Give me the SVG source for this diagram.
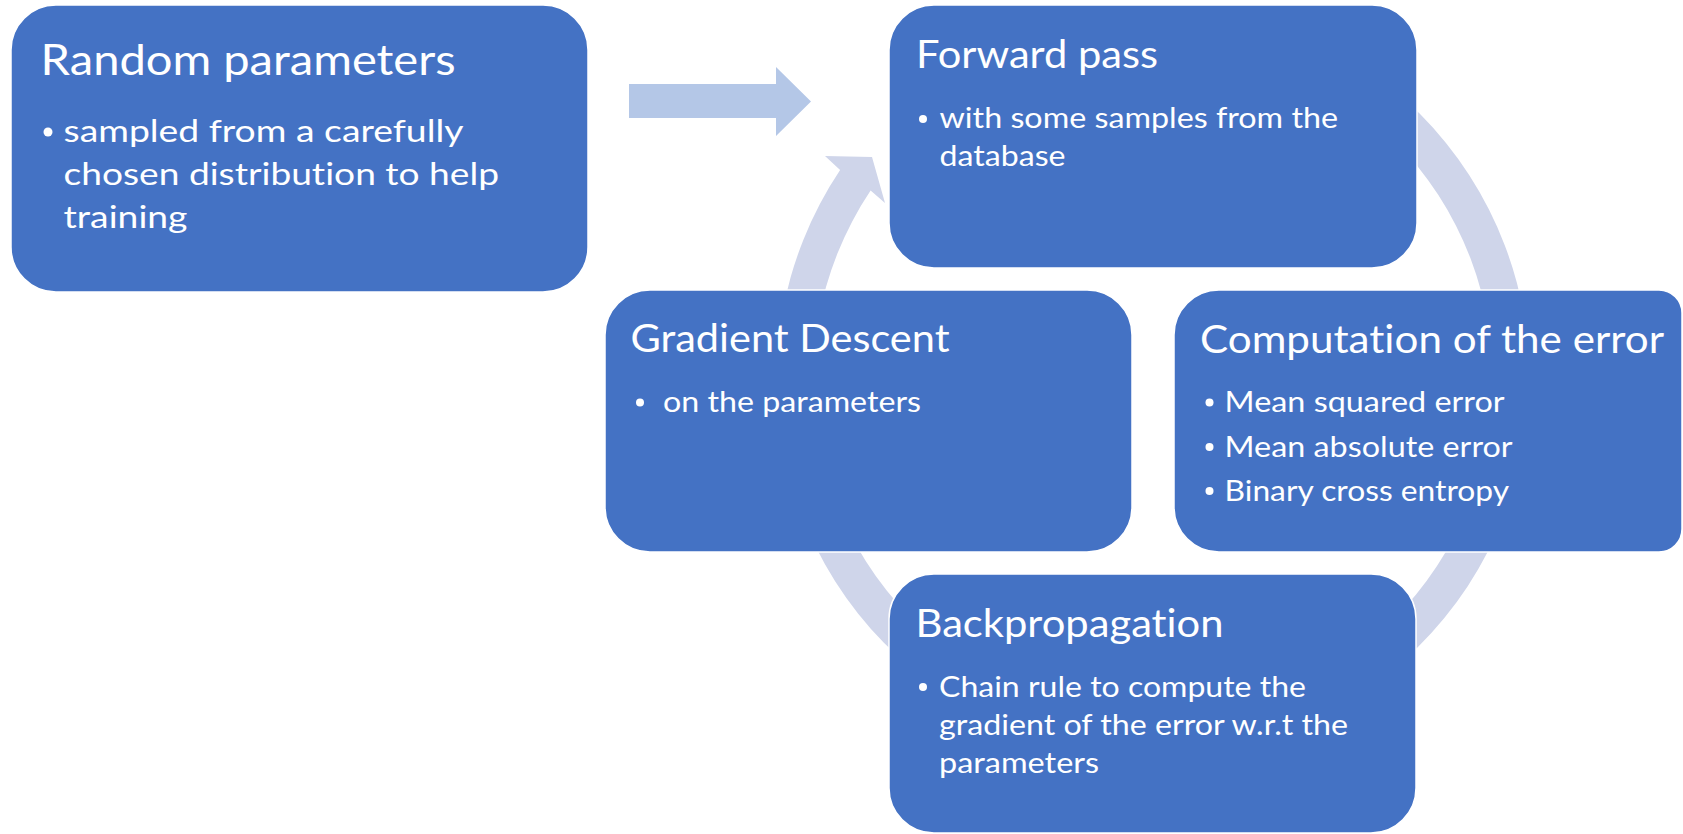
<svg xmlns="http://www.w3.org/2000/svg" width="1683" height="834" viewBox="0 0 1683 834">
  <style>
    .box { fill: #4472C4; stroke: #FFFFFF; stroke-width: 1.5; }
    .title { font-family: Lato, "Open Sans", "Liberation Sans", sans-serif; fill: #FFFFFF; font-size: 38px; font-variant-ligatures: none; }
    .title-lg { font-size: 42px; }
    .item { font-family: Lato, "Open Sans", "Liberation Sans", sans-serif; fill: #FFFFFF; font-size: 28px; font-variant-ligatures: none; }
    .item-lg { font-size: 31.5px; }
    .dot { fill: #FFFFFF; }
    .cycle { fill: #CFD5EA; }
    .entry { fill: #B4C7E7; }
  </style>

  <!-- connectors: entry arrow and the training cycle ring -->
  <g id="connectors">
    <polygon class="entry" points="629,84 776,84 776,67 811,101.5 776,136 776,118 629,118"/>
    <path class="cycle" d="M1250.4,15.8 A376.5,376.5 0 1 1 840.1,170.1 L825,156 L872,157 L885,203 L870.6,190.5 A339.8,339.8 0 1 0 1241,51.3 Z"/>
  </g>

  <!-- initialisation -->
  <g id="random-parameters">
    <rect class="box" x="11" y="5" width="577" height="287" rx="45" ry="45"/>
    <text class="title title-lg" x="40.6" y="75" textLength="415" lengthAdjust="spacingAndGlyphs">Random parameters</text>
    <circle class="dot" cx="48" cy="132" r="4.5"/>
    <text class="item item-lg" x="63.5" y="141.7" textLength="400" lengthAdjust="spacingAndGlyphs">sampled from a carefully</text>
    <text class="item item-lg" x="63.5" y="185" textLength="435.5" lengthAdjust="spacingAndGlyphs">chosen distribution to help</text>
    <text class="item item-lg" x="63.5" y="228.3" textLength="124" lengthAdjust="spacingAndGlyphs">training</text>
  </g>

  <g id="forward-pass">
    <rect class="box" x="889" y="5" width="528" height="263" rx="45" ry="45"/>
    <text class="title" x="916" y="68.3" textLength="242" lengthAdjust="spacingAndGlyphs">Forward pass</text>
    <circle class="dot" cx="923" cy="119" r="4"/>
    <text class="item" x="939.5" y="128.3" textLength="398.5" lengthAdjust="spacingAndGlyphs">with some samples from the</text>
    <text class="item" x="939.5" y="166" textLength="126" lengthAdjust="spacingAndGlyphs">database</text>
  </g>

  <g id="gradient-descent">
    <rect class="box" x="605" y="290" width="527" height="262" rx="45" ry="45"/>
    <text class="title" x="630.5" y="352.3" textLength="319" lengthAdjust="spacingAndGlyphs">Gradient Descent</text>
    <circle class="dot" cx="640" cy="402.5" r="4"/>
    <text class="item" x="663" y="412" textLength="258" lengthAdjust="spacingAndGlyphs">on the parameters</text>
  </g>

  <g id="computation-of-the-error">
    <path class="box" d="M1219,290 H1659 A23,23 0 0 1 1682,313 V529 A23,23 0 0 1 1659,552 H1219 A45,45 0 0 1 1174,507 V335 A45,45 0 0 1 1219,290 Z"/>
    <text class="title" x="1200" y="352.5" textLength="464" lengthAdjust="spacingAndGlyphs">Computation of the error</text>
    <circle class="dot" cx="1209.5" cy="402.5" r="4"/>
    <text class="item" x="1224.6" y="412" textLength="280" lengthAdjust="spacingAndGlyphs">Mean squared error</text>
    <circle class="dot" cx="1209.5" cy="447" r="4"/>
    <text class="item" x="1224.6" y="456.5" textLength="288" lengthAdjust="spacingAndGlyphs">Mean absolute error</text>
    <circle class="dot" cx="1209.5" cy="491" r="4"/>
    <text class="item" x="1224.6" y="500.5" textLength="284.5" lengthAdjust="spacingAndGlyphs">Binary cross entropy</text>
  </g>

  <g id="backpropagation">
    <rect class="box" x="889" y="574" width="527" height="259" rx="45" ry="45"/>
    <text class="title" x="915.5" y="637.3" textLength="308" lengthAdjust="spacingAndGlyphs">Backpropagation</text>
    <circle class="dot" cx="923" cy="687" r="4"/>
    <text class="item" x="939" y="697" textLength="367" lengthAdjust="spacingAndGlyphs">Chain rule to compute the</text>
    <text class="item" x="939" y="734.5" textLength="409" lengthAdjust="spacingAndGlyphs">gradient of the error w.r.t the</text>
    <text class="item" x="939" y="772.5" textLength="160" lengthAdjust="spacingAndGlyphs">parameters</text>
  </g>
</svg>
